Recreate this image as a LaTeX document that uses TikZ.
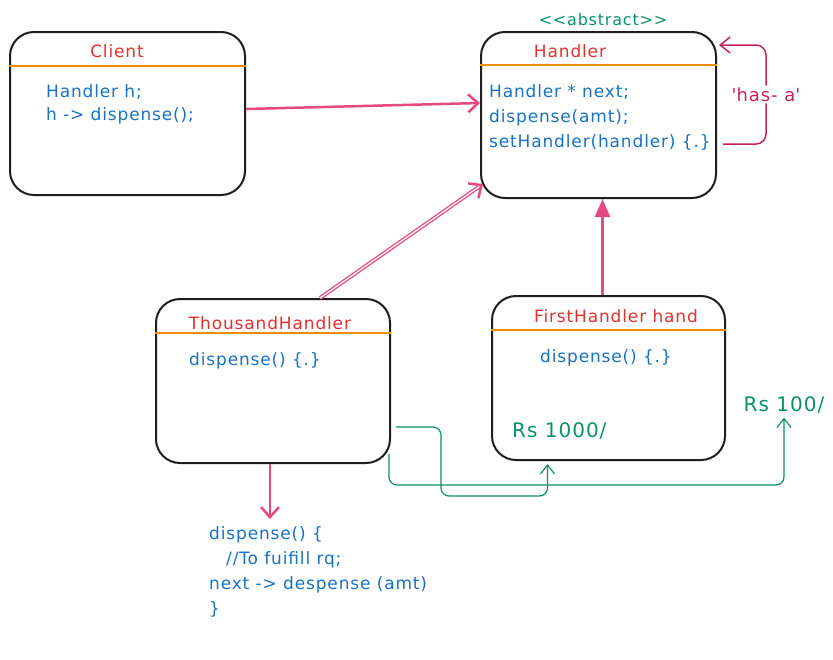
\documentclass[tikz,border=0pt]{standalone}
\usepackage{fontspec}
\setmainfont{DejaVu Sans}[LetterSpace=5]
\usepackage{tikz}
\usetikzlibrary{arrows.meta}

\definecolor{boxblack}{HTML}{1E1E1E}
\definecolor{linkpink}{HTML}{E64980}
\definecolor{titlered}{HTML}{E03131}
\definecolor{codeblue}{HTML}{1971C2}
\definecolor{flowgreen}{HTML}{099268}
\definecolor{seporange}{HTML}{F08C00}
\definecolor{hasapink}{HTML}{C2255C}

\begin{document}
\begin{tikzpicture}[x=1pt,y=-1pt,
  classbox/.style={draw=boxblack,line width=2pt,rounded corners=24pt,inner sep=0pt},
  title/.style={text=titlered,font=\fontsize{17}{20}\selectfont,inner sep=0pt},
  code/.style={text=codeblue,font=\fontsize{17}{25}\selectfont,align=left,inner sep=0pt,anchor=west},
  amount/.style={text=flowgreen,font=\fontsize{20}{24}\selectfont,inner sep=0pt},
  sepline/.style={draw=seporange,line width=1.5pt},
  link/.style={draw=linkpink,line width=2.5pt,-{Straight Barb[length=10pt,width=18pt]}},
  inherit/.style={draw=linkpink,line width=2.5pt,-{Triangle[length=18pt,width=15pt]}},
  hasa/.style={draw=hasapink,line width=1.5pt,rounded corners=10pt,-{Straight Barb[length=10pt,width=16pt]}},
  flow/.style={draw=flowgreen,line width=1.2pt,rounded corners=8pt,-{Straight Barb[length=9pt,width=14pt]}}]
\useasboundingbox (0,0) rectangle (833,659);

\node[classbox,minimum width=235pt,minimum height=163pt] (client) at (127.5,113.5) {};
\node[title] (clienttitle) at (117,51) {Client};
\draw[sepline] (client.west |- 0,66) -- (client.east |- 0,66);
\node[code,font=\fontsize{17}{23}\selectfont] (clientbody) at (46,104.5) {Handler h;\\h -> dispense();};

\node[classbox,minimum width=235pt,minimum height=166pt] (handler) at (598.5,115) {};
\node[text=flowgreen,font=\fontsize{16}{20}\selectfont,inner sep=0pt] (abstract) at (603,20) {<{}<abstract>{}>};
\node[title] (handlertitle) at (570,51) {Handler};
\draw[sepline] (handler.west |- 0,65) -- (handler.east |- 0,65);
\node[code] (handlerbody) at (489,117.5) {Handler * next;\\dispense(amt);\\setHandler(handler) \{.\}};

\node[classbox,minimum width=234pt,minimum height=164pt] (thousand) at (273,381) {};
\node[title] (thousandtitle) at (270,323) {ThousandHandler};
\draw[sepline] (thousand.west |- 0,333) -- (thousand.east |- 0,333);
\node[code] (thousandbody) at (189,361) {dispense() \{.\}};

\node[classbox,minimum width=233pt,minimum height=164pt] (first) at (608.5,378) {};
\node[title] (firsttitle) at (616,316) {FirstHandler hand};
\draw[sepline] (first.west |- 0,330) -- (first.east |- 0,330);
\node[code] (firstbody) at (540,358) {dispense() \{.\}};
\node[amount,anchor=west] (rs1000) at (512,431) {Rs 1000/};
\node[amount] (rs100) at (784,405) {Rs 100/};

\node[code] (dispensecode) at (209,571.5) {dispense() \{\\\hspace*{1em}//To fuifill rq;\\next -> despense (amt)\\\}};

\draw[link] ([yshift=4.5pt]client.east) -- ([yshift=12pt]handler.west);
\draw[draw=linkpink,line width=1.3pt,double=white,double distance=1.3pt,-{Straight Barb[length=10pt,width=18pt,line width=2.5pt]}] ([xshift=47pt]thousand.north) -- ([xshift=3pt,yshift=15pt]handler.south west);
\draw[inherit] ([xshift=-6pt]first.north) -- ([xshift=-6pt]first.north |- handler.south);
\draw[link,shorten >=7pt] ([xshift=-3pt]thousand.south) -- ([xshift=-3pt]thousand.south |- dispensecode.north);
\draw[hasa] ([xshift=6pt,yshift=-29pt]handler.east) -- ++(43,0) |- node[pos=0.25,fill=white,text=hasapink,font=\fontsize{18}{20}\selectfont,inner sep=2pt] (hasalabel) {\textquotesingle has- a\textquotesingle} ([xshift=2pt,yshift=70pt]handler.east);
\draw[flow] ([xshift=5pt,yshift=-46pt]thousand.east) -| ++(45,69) -| ([xshift=-61pt,yshift=-3pt]first.south);
\draw[flow] ([xshift=-2pt,yshift=-73pt]thousand.east) -- ++(0,31) -| ([yshift=-4pt]rs100.south);
\end{tikzpicture}
\end{document}
